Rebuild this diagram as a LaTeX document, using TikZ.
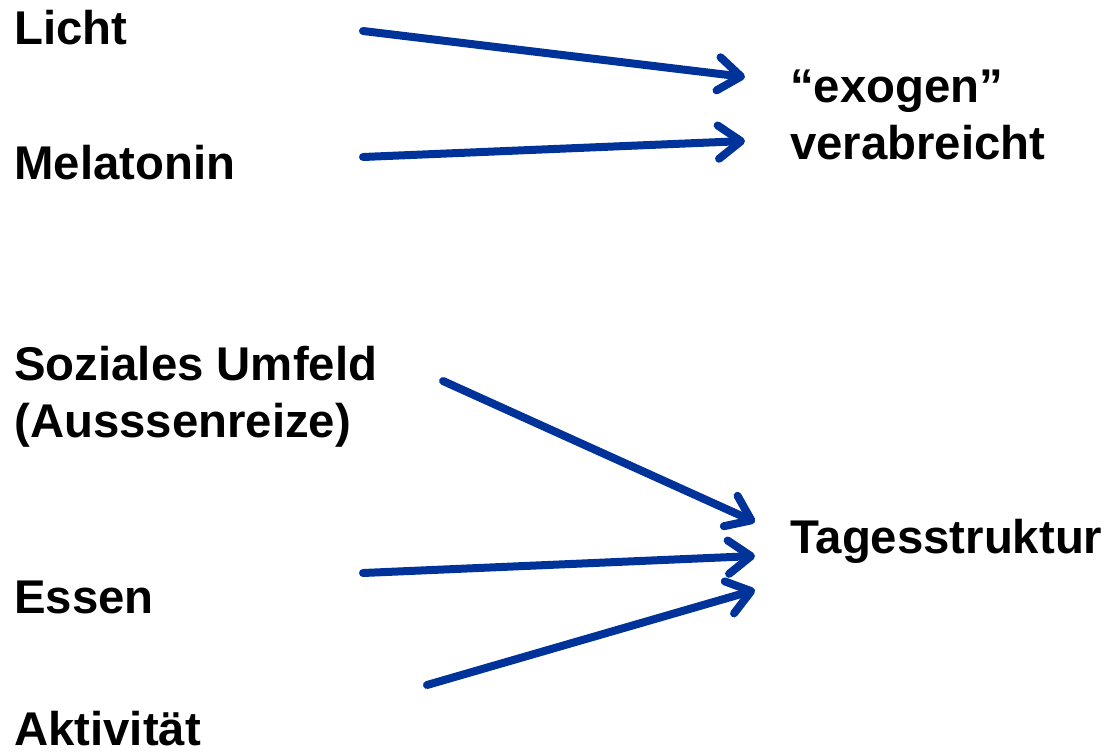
\documentclass[tikz,border=0pt]{standalone}
\usepackage{fontspec}
\setmainfont{Liberation Sans}
\usetikzlibrary{arrows.meta}
\definecolor{arrowblue}{HTML}{003399}

\begin{document}
\begin{tikzpicture}[
          x=0.75pt, y=-0.75pt,
          label/.style = {anchor=base west, inner sep=0pt, font=\fontsize{35.5}{42.75}\selectfont\bfseries, align=left},
          arrow/.style = {line width=6pt, draw=arrowblue, line cap=round, line join=round,
                          -{Straight Barb[length=17pt, width=25pt, line cap=round, line join=round]}}
        ]
        \useasboundingbox (0,0) rectangle (1109,752);

        % Nodes (base = last line)
        \node[label] (licht) at (14,45) {Licht};
        \node[label] (melatonin) at (14,180) {Melatonin};
        \node[label] (sozial) at (14,437) {Soziales Umfeld\\(Ausssenreize)};
        \node[label] (essen) at (14,613) {Essen};
        \node[label] (aktiv) at (14,745) {Aktivität};
        \node[label] (exogen) at (790,160) {“exogen”\\verabreicht};
        \node[label] (tages) at (790,553) {Tagesstruktur};

        % Arrow ends
        \coordinate (licht-out) at (363,31);
        \coordinate (melatonin-out) at (363,157);
        \coordinate (sozial-out) at (443,381);
        \coordinate (essen-out) at (363,573);
        \coordinate (aktiv-out) at (427,685);
        \coordinate (exogen-in1) at (745,77);
        \coordinate (exogen-in2) at (745,141);
        \coordinate (tages-in1) at (755,522);
        \coordinate (tages-in2) at (755,556);
        \coordinate (tages-in3) at (755,590);

        % Paths between nodes
        \draw[arrow] (licht-out) -- (exogen-in1);
        \draw[arrow] (melatonin-out) -- (exogen-in2);
        \draw[arrow] (sozial-out) -- (tages-in1);
        \draw[arrow] (essen-out) -- (tages-in2);
        \draw[arrow] (aktiv-out) -- (tages-in3);

      \end{tikzpicture}
\end{document}
